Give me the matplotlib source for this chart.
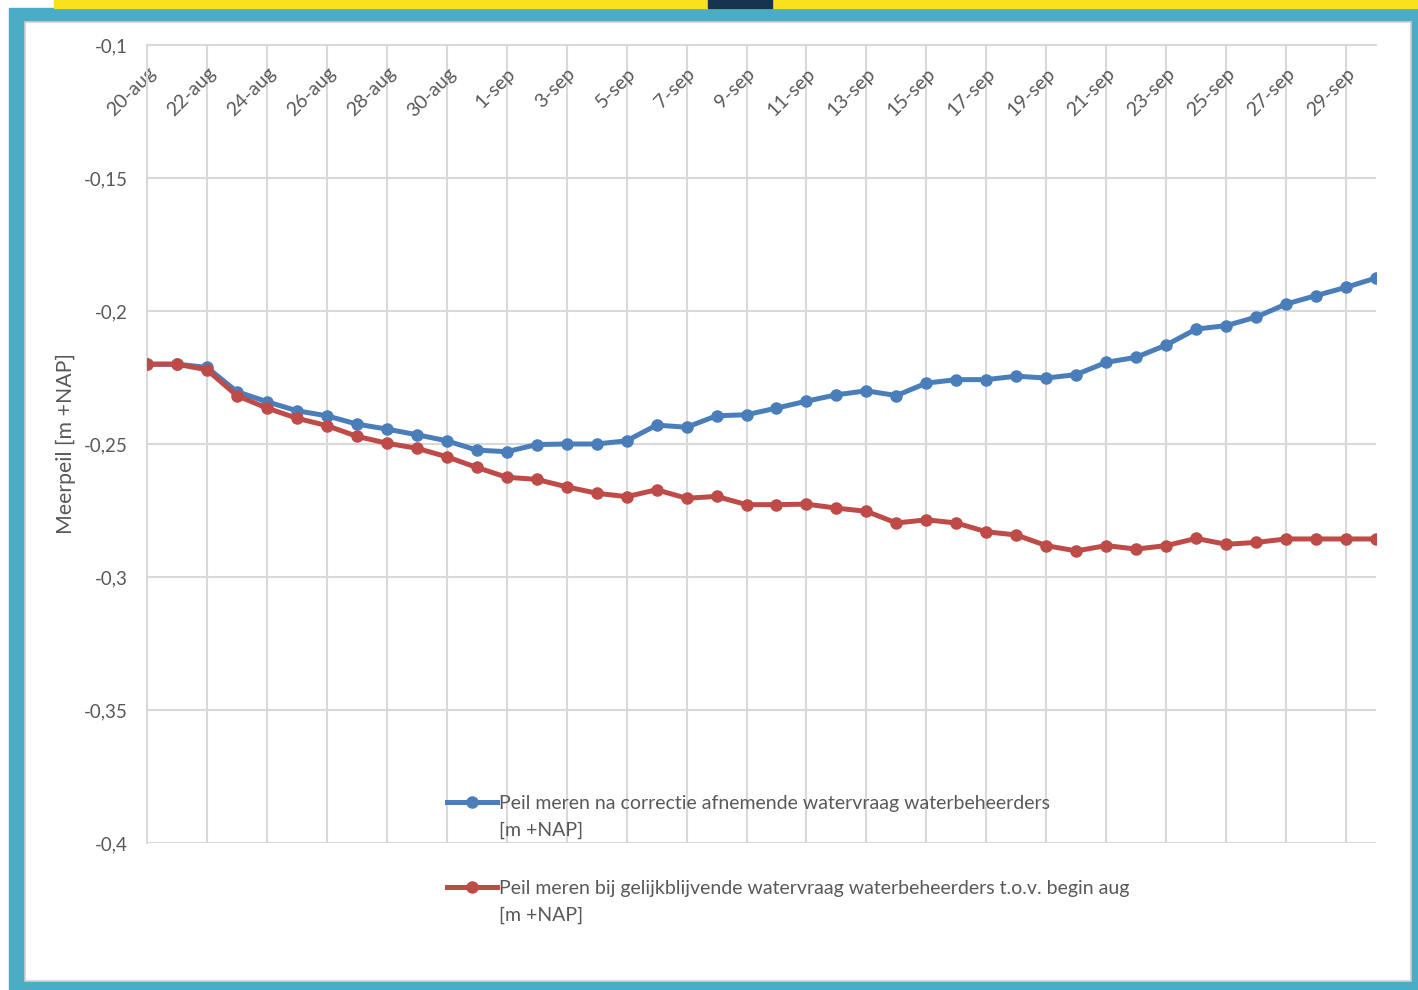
import matplotlib
matplotlib.use('Agg')
from matplotlib import pyplot as plt
from matplotlib.patches import Rectangle
from matplotlib.ticker import FuncFormatter

dates = ['20-aug', '21-aug', '22-aug', '23-aug', '24-aug', '25-aug', '26-aug',
         '27-aug', '28-aug', '29-aug', '30-aug', '31-aug', '1-sep', '2-sep',
         '3-sep', '4-sep', '5-sep', '6-sep', '7-sep', '8-sep', '9-sep',
         '10-sep', '11-sep', '12-sep', '13-sep', '14-sep', '15-sep', '16-sep',
         '17-sep', '18-sep', '19-sep', '20-sep', '21-sep', '22-sep', '23-sep',
         '24-sep', '25-sep', '26-sep', '27-sep', '28-sep', '29-sep', '30-sep']

peil_correctie = [-0.220, -0.220, -0.2212, -0.2303, -0.2341, -0.2375, -0.2394,
                  -0.2425, -0.2444, -0.2465, -0.2488, -0.2523, -0.2529, -0.2502,
                  -0.2500, -0.2500, -0.2488, -0.2429, -0.2437, -0.2394, -0.2390,
                  -0.2365, -0.2339, -0.2315, -0.2300, -0.2318, -0.2271, -0.2258,
                  -0.2258, -0.2245, -0.2252, -0.2239, -0.2193, -0.2174, -0.2128,
                  -0.2068, -0.2055, -0.2023, -0.1974, -0.1942, -0.1911, -0.1876]

peil_gelijk = [-0.220, -0.220, -0.2221, -0.2318, -0.2365, -0.2403, -0.2431,
               -0.2471, -0.2497, -0.2516, -0.2548, -0.2588, -0.2625, -0.2633,
               -0.2661, -0.2685, -0.2698, -0.2672, -0.2704, -0.2697, -0.2728,
               -0.2728, -0.2726, -0.2741, -0.2753, -0.2797, -0.2785, -0.2797,
               -0.2830, -0.2842, -0.2882, -0.2902, -0.2882, -0.2895, -0.2882,
               -0.2855, -0.2877, -0.2870, -0.2857, -0.2857, -0.2857, -0.2857]

label_correctie = 'Peil meren na correctie afnemende watervraag waterbeheerders'
label_gelijk = 'Peil meren bij gelijkblijvende watervraag waterbeheerders t.o.v. begin aug'
unit = '[m +NAP]'

W, H = 1418, 990
grey_txt = '#595959'
grid_c = '#d9d9d9'
plt.rcParams['font.family'] = ['Lato', 'DejaVu Sans']

fig = plt.figure(figsize=(W / 100, H / 100), dpi=100, facecolor='white')

def box(x0, y0, x1, y1, **kw):
    # pixel box measured from top-left
    fig.patches.append(Rectangle((x0 / W, 1 - y1 / H), (x1 - x0) / W, (y1 - y0) / H,
                                 transform=fig.transFigure, zorder=-5, **kw))

box(9, 8, W, H, color='#4bacc6')
box(54, 0, W, 8, color='#f9e11e')
box(708, 0, 772, 8, color='#14344f')
box(25, 22, 1411, 981, facecolor='white', edgecolor='#cfcfcf', lw=1.2)

ax = fig.add_axes([147 / W, 1 - 843 / H, (1376 - 147) / W, (843 - 45) / H])
ax.set_zorder(1)
ax.set_facecolor('none')

x = list(range(len(dates)))
ax.plot(x, peil_correctie, color='#4a7ebb', lw=3.6, marker='o', ms=8,
        label=label_correctie, zorder=3)
ax.plot(x, peil_gelijk, color='#be4b48', lw=3.6, marker='o', ms=8,
        label=label_gelijk, zorder=4)

ax.set_xlim(0, len(dates) - 1)
ax.set_ylim(-0.4, -0.1)
ax.set_yticks([-0.1, -0.15, -0.2, -0.25, -0.3, -0.35, -0.4])
ax.yaxis.set_major_formatter(FuncFormatter(lambda v, p: f'{v:g}'.replace('.', ',')))

ticks = x[::2]
ax.set_xticks(ticks)
ax.xaxis.tick_top()
ax.set_xticklabels([dates[i] for i in ticks], rotation=45, ha='right', va='top',
                   rotation_mode='anchor', color=grey_txt, fontsize=14)
ax.tick_params(axis='x', length=0, pad=-14)
ax.tick_params(axis='y', length=0, pad=14, labelcolor=grey_txt, labelsize=13.5)

ax.grid(True, color=grid_c, lw=1.5, zorder=0)
for s in ['right', 'bottom']:
    ax.spines[s].set_visible(False)
for s in ['left', 'top']:
    ax.spines[s].set_color(grid_c)
    ax.spines[s].set_linewidth(1.5)

ax.set_ylabel('Meerpeil [m +NAP]', color=grey_txt, fontsize=15.3)
ax.yaxis.set_label_coords(-0.058, 0.5)

leg = ax.legend(loc='upper left', bbox_to_anchor=(447 / W, 1 - 795 / H),
                bbox_transform=fig.transFigure, frameon=False, fontsize=14,
                borderpad=0, borderaxespad=0, handlelength=2.57,
                handletextpad=0.11, labelspacing=3.5, numpoints=1)
for t in leg.get_texts():
    t.set_color(grey_txt)
    ax.annotate(unit, xy=(0, 0.5), xycoords=t, xytext=(0, -19),
                textcoords='offset points', va='center', ha='left',
                color=grey_txt, fontsize=14, annotation_clip=False, zorder=10)

fig.savefig('out.png', dpi=100, facecolor=fig.get_facecolor())
